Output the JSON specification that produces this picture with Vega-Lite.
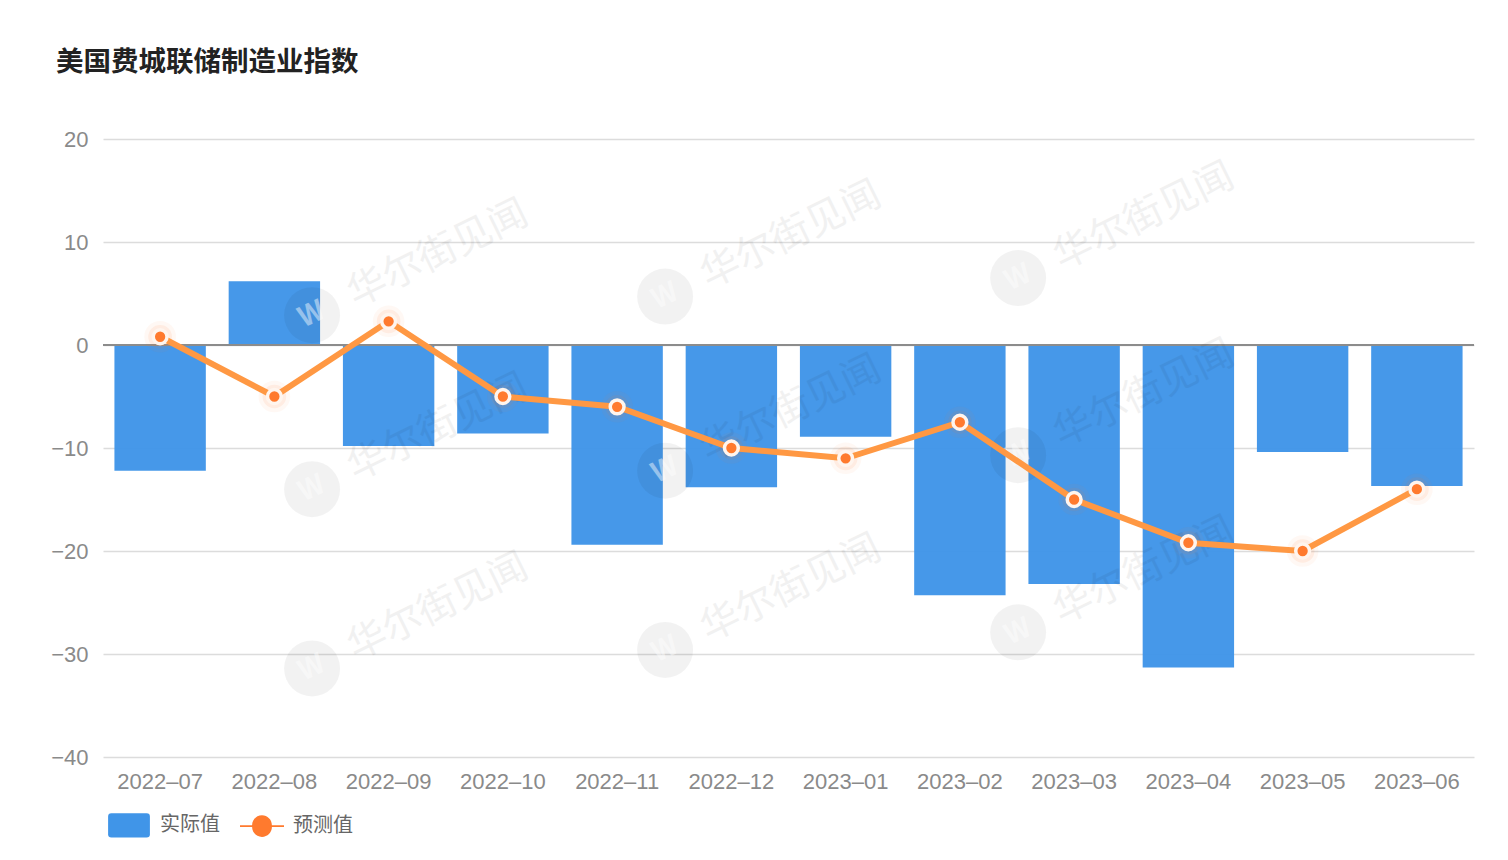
{
  "$schema": "https://vega.github.io/schema/vega-lite/v6.json",
  "description": "美国费城联储制造业指数",
  "width": 1371,
  "height": 618,
  "autosize": {"type": "none"},
  "padding": {"left": 103, "top": 139, "right": 34, "bottom": 103},
  "background": "white",
  "title": {
    "text": "美国费城联储制造业指数",
    "anchor": "start",
    "frame": "group",
    "dx": -47,
    "offset": 52,
    "font": "Noto Sans CJK SC",
    "fontSize": 27.5,
    "fontWeight": 600,
    "color": "#222222"
  },
  "config": {
    "view": {"stroke": null},
    "font": "Noto Sans CJK SC"
  },
  "data": {
    "values": [
      {"month": "2022-07", "actual": -12.2, "forecast": 0.8},
      {"month": "2022-08", "actual": 6.2, "forecast": -5},
      {"month": "2022-09", "actual": -9.8, "forecast": 2.3},
      {"month": "2022-10", "actual": -8.6, "forecast": -5},
      {"month": "2022-11", "actual": -19.4, "forecast": -6},
      {"month": "2022-12", "actual": -13.8, "forecast": -10},
      {"month": "2023-01", "actual": -8.9, "forecast": -11},
      {"month": "2023-02", "actual": -24.3, "forecast": -7.5},
      {"month": "2023-03", "actual": -23.2, "forecast": -15},
      {"month": "2023-04", "actual": -31.3, "forecast": -19.2},
      {"month": "2023-05", "actual": -10.4, "forecast": -20},
      {"month": "2023-06", "actual": -13.7, "forecast": -14}
    ]
  },
  "layer": [
    {
      "encoding": {
        "x": {
          "field": "month",
          "type": "nominal",
          "sort": null,
          "scale": {"paddingInner": 0.2, "paddingOuter": 0.1},
          "axis": {
            "title": null,
            "labelAngle": 0,
            "labelExpr": "replace(datum.label, '-', '–')",
            "labelFont": "Liberation Sans",
            "labelFontSize": 22,
            "labelColor": "#8a8a8a",
            "labelPadding": 14,
            "domain": false,
            "ticks": false
          }
        }
      },
      "layer": [
        {
          "mark": {"type": "bar", "opacity": 0.97},
          "encoding": {
            "y": {
              "field": "actual",
              "type": "quantitative",
              "scale": {"domain": [-40, 20], "nice": false},
              "axis": {
                "title": null,
                "values": [-40, -30, -20, -10, 0, 10, 20],
                "labelFont": "Liberation Sans",
                "labelFontSize": 22,
                "labelColor": "#8a8a8a",
                "labelPadding": 15,
                "domain": false,
                "ticks": false,
                "gridColor": "#dcdcdc",
                "gridWidth": 1.5
              }
            },
            "color": {
              "datum": "实际值",
              "type": "nominal",
              "scale": {"domain": ["实际值", "预测值"], "range": ["#4095e8", "#ff7a2e"]},
              "legend": {
                "title": null,
                "orient": "none",
                "legendX": 4,
                "legendY": 664,
                "direction": "horizontal",
                "columns": 2,
                "columnPadding": 20,
                "symbolSize": 1936,
                "symbolStrokeWidth": 0,
                "symbolOpacity": 1,
                "symbolType": {"signal": "datum.value == '实际值' ? 'M-0.8,-0.55 L0.8,-0.55 Q0.95,-0.55 0.95,-0.4 L0.95,0.4 Q0.95,0.55 0.8,0.55 L-0.8,0.55 Q-0.95,0.55 -0.95,0.4 L-0.95,-0.4 Q-0.95,-0.55 -0.8,-0.55 Z' : 'M-1,-0.04 L-0.45,-0.04 A0.45,0.45 0 0 1 0.45,-0.04 L1,-0.04 L1,0.04 L0.45,0.04 A0.45,0.45 0 0 1 -0.45,0.04 L-1,0.04 Z'"},
                "labelFont": "Noto Sans CJK SC",
                "labelFontSize": 20,
                "labelColor": "#666666",
                "labelOffset": 9
              }
            }
          }
        },
        {
          "mark": {"type": "rule", "color": "#8c8c8c", "strokeWidth": 1.5},
          "encoding": {"x": {"value": 0}, "x2": {"value": 1371}, "y": {"datum": 0}}
        }
      ]
    },
    {
      "data": {
        "values": [
          {"col": 1.83, "level": 2.9},
          {"col": 4.92, "level": 4.7},
          {"col": 8.01, "level": 6.5},
          {"col": 1.83, "level": -14.0},
          {"col": 4.92, "level": -12.2},
          {"col": 8.01, "level": -10.7},
          {"col": 1.83, "level": -31.4},
          {"col": 4.92, "level": -29.6},
          {"col": 8.01, "level": -27.9}
        ]
      },
      "encoding": {
        "x": {"field": "col", "type": "quantitative", "scale": {"domain": [0, 12]}, "axis": null},
        "y": {"field": "level", "type": "quantitative"}
      },
      "layer": [
        {"mark": {"type": "point", "filled": true, "size": 3136, "color": "#000000", "opacity": 0.05}},
        {"mark": {"type": "text", "text": "W", "fontSize": 28, "fontWeight": "bold", "angle": 335, "color": "#ffffff", "opacity": 0.45}},
        {"mark": {"type": "text", "text": "华尔街见闻", "fontSize": 39, "angle": 334, "dx": 140, "dy": 0, "color": "#000000", "opacity": 0.05}}
      ]
    },
    {
      "encoding": {
        "x": {
          "field": "month",
          "type": "nominal",
          "sort": null,
          "scale": {"paddingInner": 0.2, "paddingOuter": 0.1},
          "axis": null
        },
        "y": {"field": "forecast", "type": "quantitative"}
      },
      "layer": [
        {"mark": {"type": "point", "filled": true, "size": 1000, "opacity": 0.05, "color": "#ff7a2e"}},
        {"mark": {"type": "point", "filled": true, "size": 560, "opacity": 0.09, "color": "#ff7a2e"}},
        {"mark": {"type": "line", "color": "#ff9843", "strokeWidth": 6}},
        {"mark": {"type": "point", "filled": true, "size": 190, "opacity": 1, "fill": "#ff7a2e", "stroke": "#fff5ee", "strokeWidth": 3.5}}
      ]
    }
  ],
  "resolve": {"scale": {"x": "independent"}}
}
